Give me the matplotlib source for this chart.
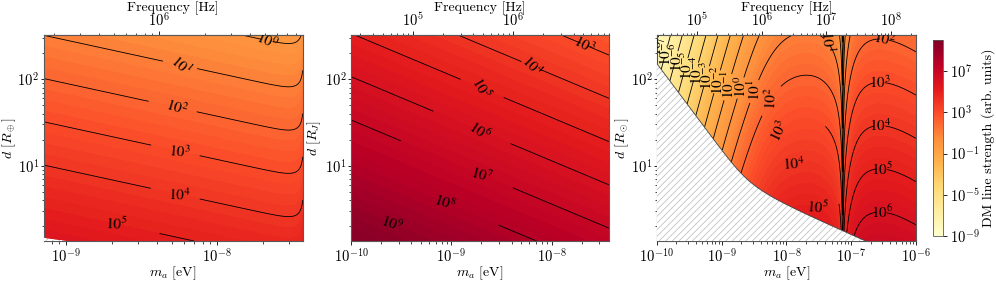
import numpy as np
import matplotlib
matplotlib.use('Agg')
import matplotlib.pyplot as plt
from matplotlib.colors import LogNorm
from matplotlib.cm import ScalarMappable

plt.rcParams['font.family'] = 'serif'
plt.rcParams['font.serif'] = ['cmr10']
plt.rcParams['mathtext.fontset'] = 'cm'
plt.rcParams['axes.formatter.use_mathtext'] = True
plt.rcParams['font.size'] = 10
plt.rcParams['hatch.color'] = '0.72'
plt.rcParams['hatch.linewidth'] = 0.5
plt.rcParams['axes.edgecolor'] = '0.35'

EV_TO_HZ = 2.418e14

# ---- axis ranges (log10 of m_a [eV] and d [R]) ----
xlim_earth = (-9.15, -7.434)
xlim_jupiter = (-10.0, -7.425)
xlim_sun = (-10.0, -6.0)
ylim_all = (0.13, 2.51)

ylabels = [r'$d\ [R_\oplus]$', r'$d\ [R_J]$', r'$d\ [R_\odot]$']
ylabel_x = [-0.10, -0.11, -0.10]

# ---- field parameters ----
# Earth: log S = A + a*log m - 2 log d - q log|1-(m/m_r)^k|
earth_A, earth_a, earth_b = -0.92, -0.758, -2.0
earth_xr, earth_q, earth_k = -7.428, 0.5, 8.0
# Earth plasma cutoff (tiny hatched corner): log m = x0 + slope*(log d - y0)
earth_cut_x0, earth_cut_y0, earth_cut_slope = -9.15, 0.165, -4.3
# Jupiter: log S = A + a*log m - 2 log d
jup_A, jup_a, jup_b = 0.338, -0.972, -2.0
# Sun: log S = log P(m) - 2 log d
sun_L0, sun_p1, sun_xk, sun_s = 6.216, 5.5, -8.3, 2.0
sun_xr, sun_q, sun_k, sun_H = -7.13, 1.8, 2.6, 0.85
sun_xd, sun_D = -6.4, 0.5
sun_b = -2.0
# Sun plasma cutoff (hatched): m_b^2 = a d^-2 + b d^-6  [eV^2]
sun_cut_a, sun_cut_b = 2.28e-16, 1.67e-13

# ---- contour label positions (log m, log d) ----
labels_earth = [(-7.673, 2.442), (-8.259, 2.153), (-8.270, 1.674), (-8.248, 1.173),
                (-8.248, 0.674), (-8.668, 0.347)]
labels_jup = [(-7.667, 2.404), (-8.198, 2.153), (-8.697, 1.896), (-8.714, 1.404),
              (-8.697, 0.904), (-9.063, 0.577), (-9.594, 0.308)]
labels_sun = [(-9.96, 2.44), (-9.88, 2.32), (-9.73, 2.26), (-9.57, 2.165), (-9.42, 2.10),
              (-9.22, 2.05), (-9.064, 1.99), (-8.936, 1.934), (-8.76, 1.915), (-8.50, 1.877),
              (-8.15, 1.78), (-8.02, 1.40), (-7.87, 1.01), (-7.51, 0.61), (-7.36, 2.435),
              (-6.50, 2.42), (-6.56, 1.97), (-6.55, 1.49), (-6.52, 1.0), (-6.52, 0.49)]

cbar_ticks = [1e-9, 1e-5, 1e-1, 1e3, 1e7]
vmin, vmax = 1e-9, 1e10

fill_levels = 10.0 ** np.arange(-9, 10.01, 0.25)
line_levels = 10.0 ** np.arange(-9, 11, 1.0)
norm = LogNorm(vmin=vmin, vmax=vmax)
cmap = plt.get_cmap('YlOrRd')


def earth_field(x, y):
    r = 10 ** (earth_k * (x - earth_xr))
    return earth_A + earth_a * x + earth_b * y - earth_q * np.log10(np.abs(1 - r) + 1e-9)


def jup_field(x, y):
    return jup_A + jup_a * x + jup_b * y


def sun_field(x, y):
    u = x - sun_xk
    base = sun_L0 + sun_p1 * u - (sun_p1 / sun_s) * np.log10(1 + 10 ** (sun_s * u))
    r = 10 ** (sun_k * (x - sun_xr))
    dip = sun_q * np.log10(np.abs(1 - r) / (1 + r) + 1e-9)
    step = sun_H * r ** 2 / (1 + r ** 2)
    decl = -sun_D * np.log10(1 + 10 ** (2 * (x - sun_xd)))
    return base + dip + step + decl + sun_b * y


def sun_cut(y):
    d = 10 ** y
    return 0.5 * np.log10(sun_cut_a * d ** -2 + sun_cut_b * d ** -6)


def earth_cut(y):
    return earth_cut_x0 + earth_cut_slope * (y - earth_cut_y0)


fig = plt.figure(figsize=(9.96, 2.81), dpi=100)
rects = [[0.0437, 0.1423, 0.2602, 0.733],
         [0.3524, 0.1423, 0.2593, 0.733],
         [0.6596, 0.1423, 0.2600, 0.733]]
xlims = [xlim_earth, xlim_jupiter, xlim_sun]
fields = [earth_field, jup_field, sun_field]
cuts = [earth_cut, None, sun_cut]
label_pos = [labels_earth, labels_jup, labels_sun]


def fmt(v):
    e = int(np.round(np.log10(v)))
    return r'$\mathit{10}^{\mathit{%d}}$' % e


for i in range(3):
    ax = fig.add_axes(rects[i])
    xl = xlims[i]
    xs = np.linspace(xl[0], xl[1], 700)
    ys = np.linspace(ylim_all[0], ylim_all[1], 400)
    X, Y = np.meshgrid(xs, ys)
    Z = fields[i](X, Y)
    cut = cuts[i]
    if cut is not None:
        Z = np.ma.masked_where(X < cut(Y), Z)
    S = 10 ** Z
    M, D = 10 ** X, 10 ** Y
    ax.contourf(M, D, S, levels=fill_levels, cmap=cmap, norm=norm, extend='both')
    cs = ax.contour(M, D, S, levels=line_levels, colors='k', linewidths=0.6)
    man = [(10 ** a, 10 ** b) for a, b in label_pos[i]]
    txts = ax.clabel(cs, inline=True, fontsize=11, fmt=fmt, manual=man, inline_spacing=3)
    for t in txts:
        t.set_math_fontfamily('stix')
    if cut is not None:
        yb = np.linspace(ylim_all[0], ylim_all[1], 300)
        xb = np.maximum(cut(yb), xl[0])
        ax.fill_betweenx(10 ** yb, 10 ** xl[0], 10 ** xb, facecolor='white',
                         edgecolor='0.72', hatch='/////', linewidth=0, zorder=3)
        if i == 2:
            ax.plot(10 ** xb, 10 ** yb, color='0.25', lw=0.6, zorder=4)
    ax.set_xscale('log')
    ax.set_yscale('log')
    ax.set_xlim(10 ** xl[0], 10 ** xl[1])
    ax.set_ylim(10 ** ylim_all[0], 10 ** ylim_all[1])
    ax.set_xlabel(r'$m_a$ [eV]', labelpad=-1)
    ax.set_ylabel(ylabels[i])
    ax.yaxis.set_label_coords(ylabel_x[i], 0.5)
    ax.tick_params(which='major', length=3, width=0.6, pad=2, labelsize=10.5)
    ax.tick_params(which='minor', length=1.8, width=0.5)
    ax.tick_params(axis='y', which='major', length=2.2, pad=1)
    ax.tick_params(axis='y', which='minor', length=1.4)
    sec = ax.secondary_xaxis('top', functions=(lambda m: m * EV_TO_HZ, lambda f: f / EV_TO_HZ))
    sec.set_xlabel('Frequency [Hz]', labelpad=0)
    sec.tick_params(which='major', length=3, width=0.6, pad=1, labelsize=10.5)
    sec.tick_params(which='minor', length=1.8, width=0.5)

cax = fig.add_axes([0.9367, 0.160, 0.0105, 0.6975])
sm = ScalarMappable(norm=norm, cmap=cmap)
cb = fig.colorbar(sm, cax=cax)
cb.set_ticks(cbar_ticks)
cb.minorticks_off()
cb.ax.tick_params(labelsize=10.5, length=3, width=0.6, pad=2)
cb.outline.set_linewidth(0.6)
cb.set_label('DM line strength (arb. units)', labelpad=1)

fig.savefig('out.png', dpi=100)
